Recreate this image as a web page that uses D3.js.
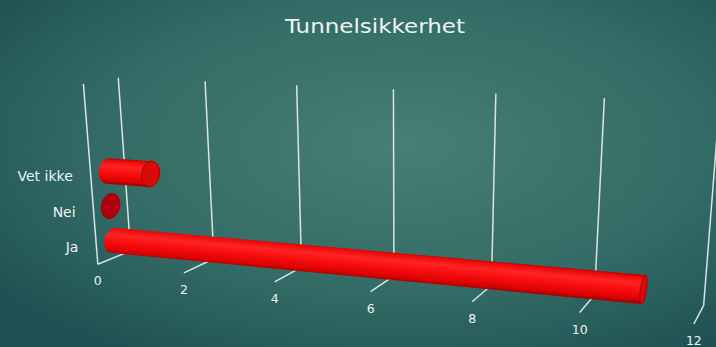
<!DOCTYPE html>
<html>
<meta charset="utf-8">
<head>
<script src="https://cdn.jsdelivr.net/npm/d3@7"></script>
<style>
  body { margin:0; overflow:hidden; background:#2b615f; }
  text { font-family:"DejaVu Sans", sans-serif; fill:#eef4f2; }
</style>
</head>
<body>
<script>
// chart data
var categories = ['Ja', 'Nei', 'Vet ikke'];
var values = [11, 0, 1];
var ticks = [0, 2, 4, 6, 8, 10, 12];
var title = 'Tunnelsikkerhet';

const W = 716, H = 347;

// camera calibration: box corners [value, height, depth] -> screen point
var calib = [
  [0, 0, 0, 129, 253], [12, 0, 0, 704, 303],
  [0, 1, 0, 120, 77], [2, 1, 0, 205, 81], [4, 1, 0, 297, 85],
  [6, 1, 0, 393, 89], [8, 1, 0, 495, 94], [10, 1, 0, 605, 99],
  [0, 0, 1, 99, 263], [2, 0, 1, 185, 272], [4, 0, 1, 274, 282],
  [6, 0, 1, 370, 292], [8, 0, 1, 473, 302], [10, 0, 1, 579, 313],
  [12, 0, 1, 694, 325], [0, 1, 1, 82, 84]
];

var x = d3.scaleLinear().domain([0, 12]).range([0, 1]);
var yBand = d3.scaleBand().domain(categories).range([0, 0.6]);

const cx0 = 400, cy0 = 200, sc = 300;

function fitCamera(pts) {
  var A = [], b = [];
  pts.forEach(function(p) {
    var X = x(p[0]), Y = p[1], Z = p[2];
    var u = (p[3] - cx0) / sc, v = (p[4] - cy0) / sc;
    A.push([X, Y, Z, 1, 0, 0, 0, 0, -u*X, -u*Y, -u*Z]); b.push(u);
    A.push([0, 0, 0, 0, X, Y, Z, 1, -v*X, -v*Y, -v*Z]); b.push(v);
  });
  var n = 11, M = [];
  for (let i = 0; i < n; i++) {
    M.push([]);
    for (let j = 0; j <= n; j++) {
      var s = 0;
      for (let k = 0; k < A.length; k++) s += A[k][i] * (j < n ? A[k][j] : b[k]);
      M[i].push(s);
    }
  }
  for (let c = 0; c < n; c++) {
    var piv = c;
    for (let r = c+1; r < n; r++) if (Math.abs(M[r][c]) > Math.abs(M[piv][c])) piv = r;
    var t = M[c]; M[c] = M[piv]; M[piv] = t;
    for (let r = 0; r < n; r++) {
      if (r == c) continue;
      var f = M[r][c] / M[c][c];
      for (let j = c; j <= n; j++) M[r][j] -= f * M[c][j];
    }
  }
  return M.map((row, i) => row[n] / row[i]);
}

var P = fitCamera(calib);

function proj(X, Y, Z) {
  var w = P[8]*X + P[9]*Y + P[10]*Z + 1;
  var u = (P[0]*X + P[1]*Y + P[2]*Z + P[3]) / w;
  var v = (P[4]*X + P[5]*Y + P[6]*Z + P[7]) / w;
  return [u*sc + cx0, v*sc + cy0];
}

var svg = d3.select('body').append('svg').attr('width', W).attr('height', H);
var defs = svg.append('defs');

var bg = defs.append('radialGradient').attr('id', 'bg')
  .attr('cx', '56%').attr('cy', '42%').attr('r', '70%');
bg.append('stop').attr('offset', '0%').attr('stop-color', '#467f74');
bg.append('stop').attr('offset', '60%').attr('stop-color', '#336b66');
bg.append('stop').attr('offset', '100%').attr('stop-color', '#1f5353');
svg.append('rect').attr('width', W).attr('height', H).attr('fill', 'url(#bg)');

var glow = defs.append('filter').attr('id', 'glow')
  .attr('x', '-20%').attr('y', '-20%').attr('width', '140%').attr('height', '140%');
glow.append('feGaussianBlur').attr('in', 'SourceGraphic').attr('stdDeviation', 0.6);

svg.append('text').attr('x', 375).attr('y', 33).attr('text-anchor', 'middle')
  .attr('textLength', 180).attr('lengthAdjust', 'spacingAndGlyphs')
  .style('font-size', '20px').text(title);

var line = d3.line();
var grid = svg.append('g').attr('fill', 'none')
  .attr('stroke', '#e8f2ef').attr('stroke-width', 1.5).attr('stroke-opacity', 0.9)
  .attr('filter', 'url(#glow)');

// back wall gridlines + floor lines
ticks.forEach(function(t) {
  grid.append('path').attr('d', line([proj(x(t), 0, 0), proj(x(t), 1, 0)]));
  grid.append('path').attr('d', line([proj(x(t), 0, 0), proj(x(t), 0, 1)]));
});
// left wall front edge
grid.append('path').attr('d', line([proj(0, 0, 1), proj(0, 1, 1)]));

// tick labels
svg.append('g').selectAll('text').data(ticks).join('text')
  .attr('x', d => proj(x(d), 0, 1)[0])
  .attr('y', d => proj(x(d), 0, 1)[1] + 21)
  .attr('text-anchor', 'middle')
  .style('font-size', '12.5px')
  .text(d => d);

// category labels
var bw = yBand.bandwidth();
svg.append('g').selectAll('text').data(categories).join('text')
  .attr('x', d => proj(0, yBand(d) + bw/2, 1)[0] - 18)
  .attr('y', d => proj(0, yBand(d) + bw/2, 1)[1] + 5)
  .attr('text-anchor', 'end')
  .style('font-size', '14px')
  .text(d => d);

// cylinders
const ry = 0.07, rz = 0.28, zc = 0.5;

function capPoints(X, yc) {
  return d3.range(48).map(i => {
    var a = i / 48 * 2 * Math.PI;
    return proj(X, yc + ry * Math.cos(a), zc + rz * Math.sin(a));
  });
}

var bars = svg.append('g');
categories.forEach(function(c, i) {
  var yc = yBand(c) + bw/2;
  var x1 = x(values[i]);
  var start = capPoints(0, yc), end = capPoints(x1, yc);

  if (values[i] > 0) {
    var hull = d3.polygonHull(start.concat(end));
    // gradient across the tube, perpendicular to its axis on screen
    var a0 = proj(0, yc, zc), a1 = proj(x1, yc, zc), m = proj(x1/2, yc, zc);
    var dx = a1[0] - a0[0], dy = a1[1] - a0[1], len = Math.hypot(dx, dy);
    var nx = dy / len, ny = -dx / len;
    var ext = d3.extent(hull, p => (p[0]-m[0])*nx + (p[1]-m[1])*ny);
    var gid = 'tube' + i;
    var lg = defs.append('linearGradient').attr('id', gid)
      .attr('gradientUnits', 'userSpaceOnUse')
      .attr('x1', m[0] + nx*ext[1]).attr('y1', m[1] + ny*ext[1])
      .attr('x2', m[0] + nx*ext[0]).attr('y2', m[1] + ny*ext[0]);
    [[0, '#b80000'], [0.08, '#ec0808'], [0.3, '#ff2424'], [0.55, '#f80e0e'],
     [0.85, '#dc0202'], [1, '#a00000']].forEach(s =>
      lg.append('stop').attr('offset', s[0]).attr('stop-color', s[1]));
    bars.append('path').attr('d', 'M' + hull.join('L') + 'Z')
      .attr('fill', 'url(#' + gid + ')');
  }
  bars.append('path').attr('d', 'M' + end.join('L') + 'Z')
    .attr('fill', values[i] > 0 ? '#d80a0a' : '#b00010')
    .attr('stroke', '#940000').attr('stroke-width', 0.8);
});
</script>
</body>
</html>
